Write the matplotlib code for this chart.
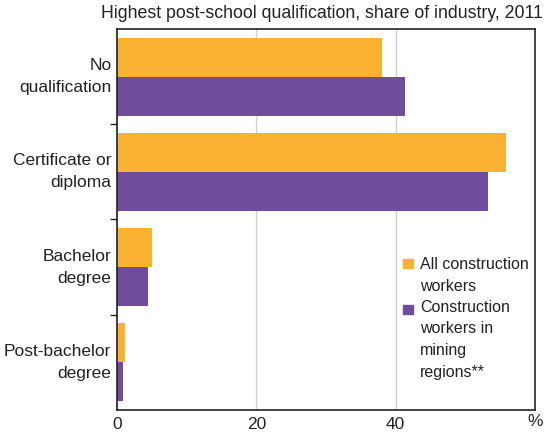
import numpy as np
from matplotlib import pyplot as plt
from matplotlib.patches import Rectangle

plt.rcParams['font.family'] = ['Liberation Sans', 'DejaVu Sans']

# 数据
categories = ['No\nqualification', 'Certificate or\ndiploma', 'Bachelor\ndegree', 'Post-bachelor\ndegree']
all_workers = [38.0, 55.9, 5.0, 1.2]
mining_workers = [41.3, 53.3, 4.4, 0.9]
series_names = ['All construction\nworkers', 'Construction\nworkers in\nmining\nregions**']
colors = ['#fbb131', '#6f4c9c']
txt = '#222222'

fig = plt.figure(figsize=(5.45, 4.34), dpi=100)
ax = fig.add_axes([0.2147, 0.0553, 0.767, 0.878])

y = np.arange(len(categories))
h = 0.41
ax.barh(y - h / 2, all_workers, height=h, color=colors[0], zorder=2)
ax.barh(y + h / 2, mining_workers, height=h, color=colors[1], zorder=2)

ax.set_xlim(0, 60)
ax.set_ylim(len(categories) - 0.5, -0.5)
ax.set_xticks([0, 20, 40])
ax.set_xticklabels(['0', '20', '40'], fontsize=12.5, color=txt)
ax.grid(axis='x', color='#d0d0d0', linewidth=1, zorder=0)
ax.tick_params(axis='x', length=0, pad=5)

ax.set_yticks(y)
ax.set_yticklabels(categories, fontsize=12.5, color=txt, linespacing=1.6, va='center')
ax.tick_params(axis='y', which='major', length=0, pad=4)
ax.set_yticks(y[:-1] + 0.5, minor=True)
ax.tick_params(axis='y', which='minor', length=5, width=1, color=txt)

for s in ax.spines.values():
    s.set_color(txt)
    s.set_linewidth(1.2)

fig.text(0.997, 0.95, 'Highest post-school qualification, share of industry, 2011',
         ha='right', va='bottom', fontsize=12.8, color=txt)
fig.text(0.997, 0.012, '%', ha='right', va='bottom', fontsize=12.5, color=txt)

# 图例（手动绘制，文字顶部对齐色块）
leg_top = [0.4016, 0.289]
box_bottom = [0.373, 0.252]
for c, name, ty, by in zip(colors, series_names, leg_top, box_bottom):
    ax.add_patch(Rectangle((0.684, by), 0.024, 0.0236, transform=ax.transAxes,
                           color=c, clip_on=False, zorder=3))
    ax.text(0.725, ty, name, transform=ax.transAxes, ha='left', va='top',
            fontsize=11.5, color=txt, linespacing=1.55)

fig.savefig('out.png', dpi=100)
